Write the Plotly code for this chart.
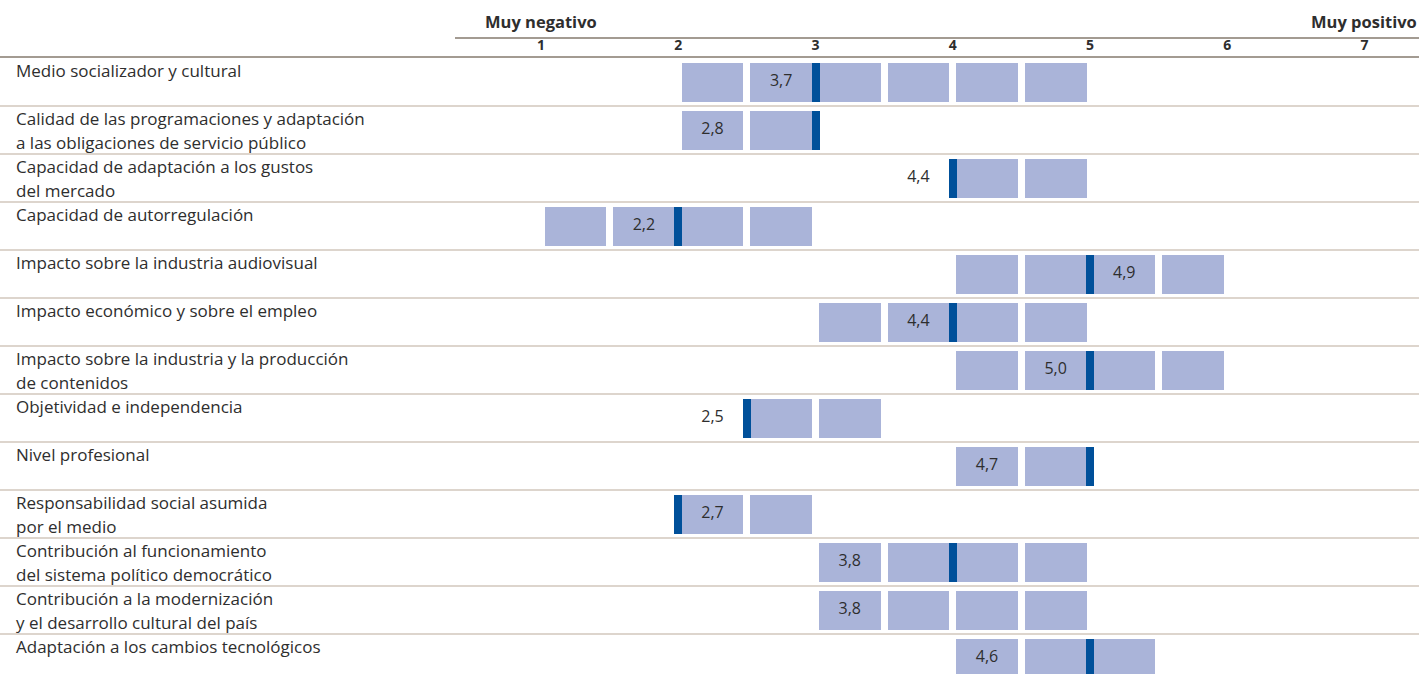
import plotly.graph_objects as go

# ---- data ----
categories = [
    "Medio socializador y cultural",
    "Calidad de las programaciones y adaptación<br>a las obligaciones de servicio público",
    "Capacidad de adaptación a los gustos<br>del mercado",
    "Capacidad de autorregulación",
    "Impacto sobre la industria audiovisual",
    "Impacto económico y sobre el empleo",
    "Impacto sobre la industria y la producción<br>de contenidos",
    "Objetividad e independencia",
    "Nivel profesional",
    "Responsabilidad social asumida<br>por el medio",
    "Contribución al funcionamiento<br>del sistema político democrático",
    "Contribución a la modernización<br>y el desarrollo cultural del país",
    "Adaptación a los cambios tecnológicos",
]
mean_values = [3.7, 2.8, 4.4, 2.2, 4.9, 4.4, 5.0, 2.5, 4.7, 2.7, 3.8, 3.8, 4.6]
range_low = [2.0, 2.0, 4.0, 1.0, 4.0, 3.0, 4.0, 2.5, 4.0, 2.0, 3.0, 3.0, 4.0]
range_high = [5.0, 3.0, 5.0, 3.0, 6.0, 5.0, 6.0, 3.5, 5.0, 3.0, 5.0, 5.0, 5.5]
median_values = [3.0, 3.0, 4.0, 2.0, 5.0, 4.0, 5.0, 2.5, 5.0, 2.0, 4.0, None, 5.0]
label_pos = [2.75, 2.25, 3.75, 1.75, 5.25, 3.75, 4.75, 2.25, 4.25, 2.25, 3.25, 3.25, 4.25]
tick_values = [1, 2, 3, 4, 5, 6, 7]
tick_labels = ["1", "2", "3", "4", "5", "6", "7"]
header_left = "Muy negativo"
header_right = "Muy positivo"

# ---- styles ----
W, H = 1419, 674
UNIT = 137.25            # px per scale unit
X1_PX = 541
ROW_H = 48
TOP = 58
CELL = 0.5
GAP = 7 / UNIT
BOX_H = 39 / ROW_H
MARK_W = 8 / UNIT
BOX_COLOR = "#AAB4D9"
MARK_COLOR = "#00509A"
TEXT_COLOR = "#2E2E2E"
SEP_COLOR = "#DDD5CD"
DARK_LINE = "#A39B92"
FONT = "Open Sans"

x_lo = 1 - X1_PX / UNIT
x_hi = 1 + (W - X1_PX) / UNIT
n = len(categories)
y_bottom = -0.5 + (H - TOP) / ROW_H

# cells
cell_y, cell_base, cell_len = [], [], []
for i in range(n):
    k = 0
    while range_low[i] + k * CELL < range_high[i] - 1e-9:
        start = range_low[i] + k * CELL
        cell_y.append(i)
        cell_base.append(start + GAP / 2)
        cell_len.append(CELL - GAP)
        k += 1

fig = go.Figure()
fig.add_trace(go.Bar(
    y=cell_y, x=cell_len, base=cell_base, orientation="h", width=BOX_H,
    marker=dict(color=BOX_COLOR, line=dict(width=0)), hoverinfo="skip",
    showlegend=False,
))

med_y = [i for i in range(n) if median_values[i] is not None]
med_base = [median_values[i] - MARK_W / 2 for i in med_y]
fig.add_trace(go.Bar(
    y=med_y, x=[MARK_W] * len(med_y), base=med_base, orientation="h", width=BOX_H,
    marker=dict(color=MARK_COLOR, line=dict(width=0)), hoverinfo="skip",
    showlegend=False,
))

fig.add_trace(go.Scatter(
    x=label_pos, y=list(range(n)), mode="text",
    text=[f"{v:.1f}".replace(".", ",") for v in mean_values],
    textfont=dict(family=FONT, size=16, color=TEXT_COLOR),
    textposition="middle center", hoverinfo="skip", showlegend=False,
))

annotations = []
for i, cat in enumerate(categories):
    for j, line in enumerate(cat.split("<br>")):
        annotations.append(dict(
            x=0, xref="paper", xanchor="left", xshift=14,
            y=i - 0.5, yref="y", yanchor="top", yshift=1 - 24 * j,
            text=line, showarrow=False,
            font=dict(family=FONT, size=17, color=TEXT_COLOR),
        ))

annotations.append(dict(
    x=1, xref="x", xanchor="center", y=1, yref="paper", yanchor="bottom",
    yshift=23, text=f"<b>{header_left}</b>", showarrow=False,
    font=dict(family=FONT, size=16.5, color=TEXT_COLOR),
))
annotations.append(dict(
    x=1, xref="paper", xanchor="right", y=1, yref="paper", yanchor="bottom",
    yshift=23, text=f"<b>{header_right}</b>", showarrow=False,
    font=dict(family=FONT, size=16.5, color=TEXT_COLOR),
))

shapes = []
for i in range(n - 1):
    shapes.append(dict(
        type="line", xref="paper", x0=0, x1=1, yref="y", y0=i + 0.5, y1=i + 0.5,
        line=dict(color=SEP_COLOR, width=2), layer="below",
    ))
shapes.append(dict(
    type="line", xref="paper", x0=455 / W, x1=1,
    yref="paper", ysizemode="pixel", yanchor=1, y0=20, y1=20,
    line=dict(color=DARK_LINE, width=2),
))

fig.update_layout(
    width=W, height=H,
    margin=dict(l=0, r=0, t=TOP, b=0, pad=0),
    paper_bgcolor="white", plot_bgcolor="white",
    barmode="overlay", bargap=0,
    showlegend=False,
    annotations=annotations, shapes=shapes,
    xaxis=dict(
        range=[x_lo, x_hi], side="top", showgrid=False, zeroline=False,
        tickvals=tick_values, ticktext=[f"<b>{t}</b>" for t in tick_labels],
        tickfont=dict(family=FONT, size=14, color=TEXT_COLOR),
        ticks="", showline=True, linecolor=DARK_LINE, linewidth=2,
        fixedrange=True,
    ),
    yaxis=dict(
        range=[y_bottom, -0.5], visible=False, showgrid=False, zeroline=False,
        fixedrange=True,
    ),
)

fig.write_html(
    "out.html",
    config={"displayModeBar": False},
    post_script="document.body.style.margin='0';document.body.style.overflow='hidden';",
)
